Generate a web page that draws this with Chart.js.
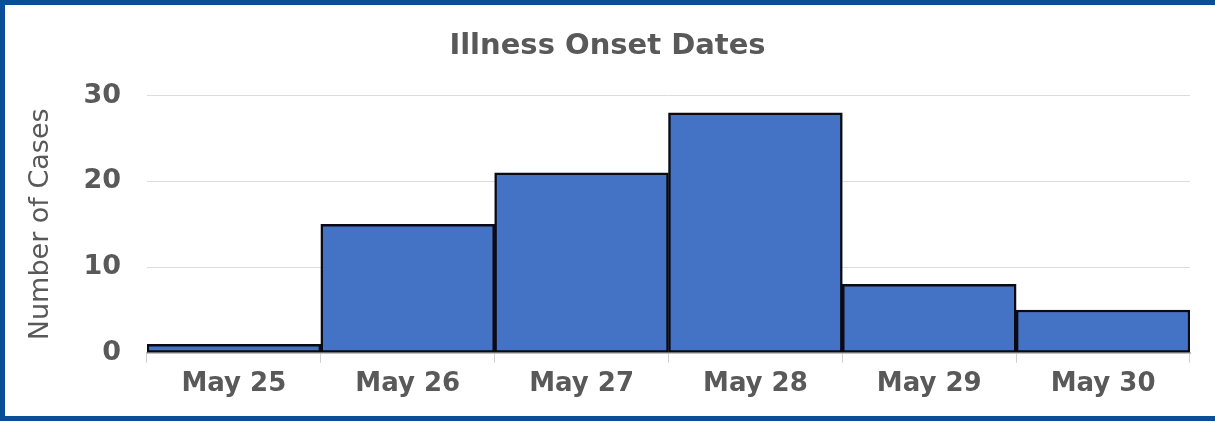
<!DOCTYPE html>
<html>
<head>
<meta charset="utf-8">
<script src="https://cdn.jsdelivr.net/npm/chart.js@4/dist/chart.umd.min.js"></script>
<style>
  html, body { margin: 0; padding: 0; background: #ffffff; overflow: hidden; width: 1215px; height: 421px; }
  #marco {
    position: absolute; left: 0; top: 0;
    box-sizing: border-box;
    width: 1215px; height: 421px;
    background: #ffffff;
    border-top: 5px solid #0b4e98;
    border-left: 5px solid #0b4e98;
    border-bottom: 5px solid #0b4e98;
    border-right: 0;
  }
  #contenedor { position: absolute; left: 0; top: 0; width: 1210px; height: 411px; }
</style>
</head>
<body>
<div id="marco"><div id="contenedor"><canvas id="grafica"></canvas></div></div>
<script>
const fechas = ["May 25", "May 26", "May 27", "May 28", "May 29", "May 30"];
const casos = [1, 15, 21, 28, 8, 5];
const ticksY = [0, 10, 20, 30];

const gris = "#595959";
const fuente = "'DejaVu Sans', Verdana, sans-serif";

let ctx = document.getElementById("grafica").getContext("2d");
let grafica = new Chart(ctx, {
  type: "bar",
  data: {
    labels: fechas,
    datasets: [
      {
        label: "Number of Cases",
        data: casos,
        backgroundColor: "#4472c4",
        borderColor: "#0a0a14",
        borderWidth: 2.5,
        borderSkipped: false,
        barPercentage: 1,
        categoryPercentage: 1,
      },
    ],
  },
  options: {
    responsive: true,
    maintainAspectRatio: false,
    animation: false,
    layout: { padding: { left: 20, right: 25, top: 17, bottom: 10 } },
    plugins: {
      legend: { display: false },
      tooltip: { enabled: false },
      title: {
        display: true,
        text: "Illness Onset Dates",
        color: gris,
        font: { family: fuente, size: 29, weight: "bold" },
        padding: { top: 7, bottom: 32 },
      },
    },
    scales: {
      x: {
        grid: {
          offset: true,
          drawOnChartArea: false,
          drawTicks: true,
          tickLength: 10,
          color: "#d0d0d0",
        },
        border: { color: "#bfbfbf", width: 2 },
        ticks: {
          color: gris,
          font: { family: fuente, size: 26, weight: "bold" },
          padding: 6,
        },
      },
      y: {
        min: 0,
        max: 30,
        afterBuildTicks: (eje) => {
          eje.ticks = ticksY.map((v) => ({ value: v }));
        },
        grid: { color: "#dcdcdc", drawTicks: false },
        border: { display: false },
        ticks: {
          color: gris,
          font: { family: fuente, size: 27, weight: "bold" },
          padding: 26,
        },
        title: {
          display: true,
          text: "Number of Cases",
          color: gris,
          font: { family: fuente, size: 27 },
          padding: { top: 0, bottom: 0 },
        },
      },
    },
  },
});
</script>
</body>
</html>
